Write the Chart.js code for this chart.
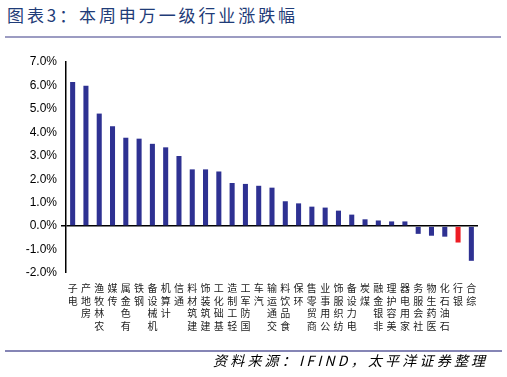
<!DOCTYPE html>
<html>
<head>
<meta charset="utf-8">
<script src="https://cdn.jsdelivr.net/npm/chart.js@4.4.1/dist/chart.umd.min.js"></script>
<style>
  html, body { margin: 0; padding: 0; background: #fff; }
  #wrap { position: relative; width: 507px; height: 377px; overflow: hidden; }
  #title { position: absolute; left: 7px; top: 3px; font-family: "Noto Sans CJK SC", sans-serif; font-size: 17px; color: #1F3C78; letter-spacing: 2.9px; white-space: nowrap; line-height: 24px; }
  #topline { position: absolute; left: 5px; top: 36px; width: 496px; height: 2px; background: #9C9CC2; }
  #botline { position: absolute; left: 5px; top: 350px; width: 497px; height: 2px; background: #8585B5; }
  #source { position: absolute; left: 213px; top: 350px; font-family: "Noto Sans CJK SC", sans-serif; font-size: 14px; font-style: italic; color: #000; letter-spacing: 3.2px; white-space: nowrap; line-height: 20px; }
  canvas { position: absolute; left: 0; top: 0; }
</style>
</head>
<body>
<div id="wrap">
  <div id="title">图表3：本周申万一级行业涨跌幅</div>
  <div id="topline"></div>
  <canvas id="c" width="507" height="377"></canvas>
  <div id="botline"></div>
  <div id="source">资料来源：IFIND，太平洋证券整理</div>
</div>
<script>
const categories = ["电子","房地产","农林牧渔","传媒","有色金属","钢铁","机械设备","计算机","通信","建筑材料","建筑装饰","基础化工","轻工制造","国防军工","汽车","交通运输","食品饮料","环保","商贸零售","公用事业","纺织服饰","电力设备","煤炭","非银金融","美容护理","家用电器","社会服务","医药生物","石油石化","银行","综合"];
const changePct = [6.15,5.99,4.80,4.26,3.77,3.73,3.51,3.36,2.99,2.42,2.42,2.33,1.84,1.80,1.72,1.64,1.06,0.97,0.83,0.79,0.66,0.49,0.29,0.24,0.20,0.20,-0.33,-0.41,-0.45,-0.70,-1.48];
const highlighted = "银行";
const yTicks = [-2,-1,0,1,2,3,4,5,6,7];

const barColor = '#2E3192';
const hiColor = '#ED1C24';

new Chart(document.getElementById('c'), {
  type: 'bar',
  data: {
    labels: categories,
    datasets: [{
      data: changePct,
      backgroundColor: categories.map(c => c === highlighted ? hiColor : barColor),
      barPercentage: 0.38,
      categoryPercentage: 1.0
    }]
  },
  options: {
    responsive: false,
    animation: false,
    devicePixelRatio: 1,
    layout: { padding: { left: 0, right: 29, top: 62, bottom: 39 } },
    plugins: { legend: { display: false }, tooltip: { enabled: false } },
    scales: {
      x: {
        grid: { display: false, drawTicks: false },
        border: { display: false },
        ticks: {
          autoSkip: false,
          maxRotation: 0,
          minRotation: 0,
          padding: 9,
          color: '#222',
          font: { family: '"Noto Sans CJK SC", sans-serif', size: 10, lineHeight: 1.25 },
          callback: (v, i) => categories[i].split('').reverse()
        },
        afterFit: s => { s.height = 65; }
      },
      y: {
        min: yTicks[0],
        max: yTicks[yTicks.length - 1],
        afterBuildTicks: s => { s.ticks = yTicks.map(v => ({ value: v })); },
        grid: {
          color: ctx => (ctx.tick && ctx.tick.value === 0) ? '#000' : 'rgba(0,0,0,0)',
          lineWidth: ctx => (ctx.tick && ctx.tick.value === 0) ? 1.5 : 0,
          tickColor: '#000',
          tickLength: 5,
          drawTicks: true
        },
        border: { display: true, color: '#000', width: 1.5 },
        ticks: {
          color: '#000',
          padding: 4,
          font: { family: '"Liberation Sans", Arial, sans-serif', size: 12 },
          callback: v => v.toFixed(1) + '%'
        },
        afterFit: s => { s.width = 66; }
      }
    }
  }
});
</script>
</body>
</html>
